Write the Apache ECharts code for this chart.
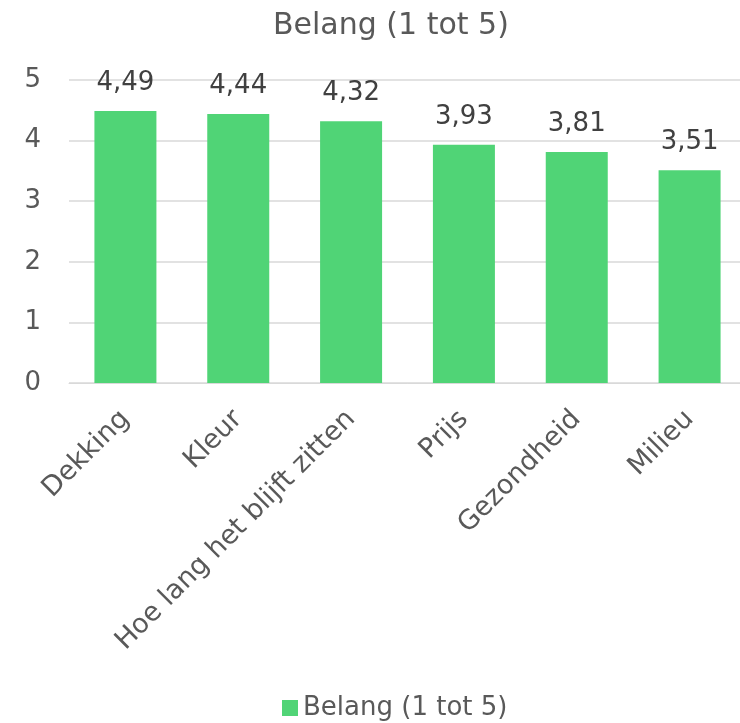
<!DOCTYPE html>
<html>
<head>
    <meta charset="utf-8">
    <title>Belang</title>
    <script src="https://cdn.jsdelivr.net/npm/echarts@6/dist/echarts.min.js"></script>
    <style>
        html, body { margin: 0; padding: 0; background: #ffffff; overflow: hidden; }
        /* canvas a bit wider than the window: the last gridline runs off the right edge */
        #chart { width: 760px; height: 723px; }
    </style>
</head>
<body>
<div id="chart"></div>
<script>
    var categories = ['Dekking', 'Kleur', 'Hoe lang het blijft zitten', 'Prijs', 'Gezondheid', 'Milieu'];
    var belang = [4.49, 4.44, 4.32, 3.93, 3.81, 3.51];
    var yTicks = [0, 1, 2, 3, 4, 5];

    var font = 'DejaVu Sans';
    var grey = '#595959';
    var chart = echarts.init(document.getElementById('chart'));
    chart.setOption({
        animation: false,
        textStyle: {fontFamily: font},
        title: {
            text: 'Belang (1 tot 5)',
            left: 268,
            top: 6,
            textStyle: {fontFamily: font, fontSize: 30, fontWeight: 'normal', color: grey}
        },
        legend: {
            left: 277,
            top: 690,
            icon: 'rect',
            itemWidth: 16,
            itemHeight: 16,
            itemGap: 8,
            textStyle: {fontFamily: font, fontSize: 26, color: grey},
            data: ['Belang (1 tot 5)']
        },
        grid: {left: 69, top: 80, width: 677, height: 303},
        xAxis: {
            type: 'category',
            data: categories,
            axisLine: {show: true, lineStyle: {color: '#d9d9d9', width: 1}},
            axisTick: {show: false},
            axisLabel: {
                rotate: 45,
                interval: 0,
                margin: 32,
                fontFamily: font,
                fontSize: 27,
                color: grey
            }
        },
        yAxis: {
            type: 'value',
            min: yTicks[0],
            max: yTicks[yTicks.length - 1],
            interval: 1,
            axisLine: {show: false},
            axisTick: {show: false},
            splitLine: {lineStyle: {color: '#d9d9d9', width: 1.5}},
            axisLabel: {margin: 28, fontFamily: font, fontSize: 26, color: grey}
        },
        series: [{
            name: 'Belang (1 tot 5)',
            type: 'bar',
            data: belang,
            barWidth: 62,
            itemStyle: {color: '#50d476'},
            label: {
                show: true,
                position: 'top',
                distance: 15,
                fontFamily: font,
                fontSize: 26,
                color: '#404040',
                formatter: function (p) { return p.value.toFixed(2).replace('.', ','); }
            }
        }]
    });
</script>
</body>
</html>
